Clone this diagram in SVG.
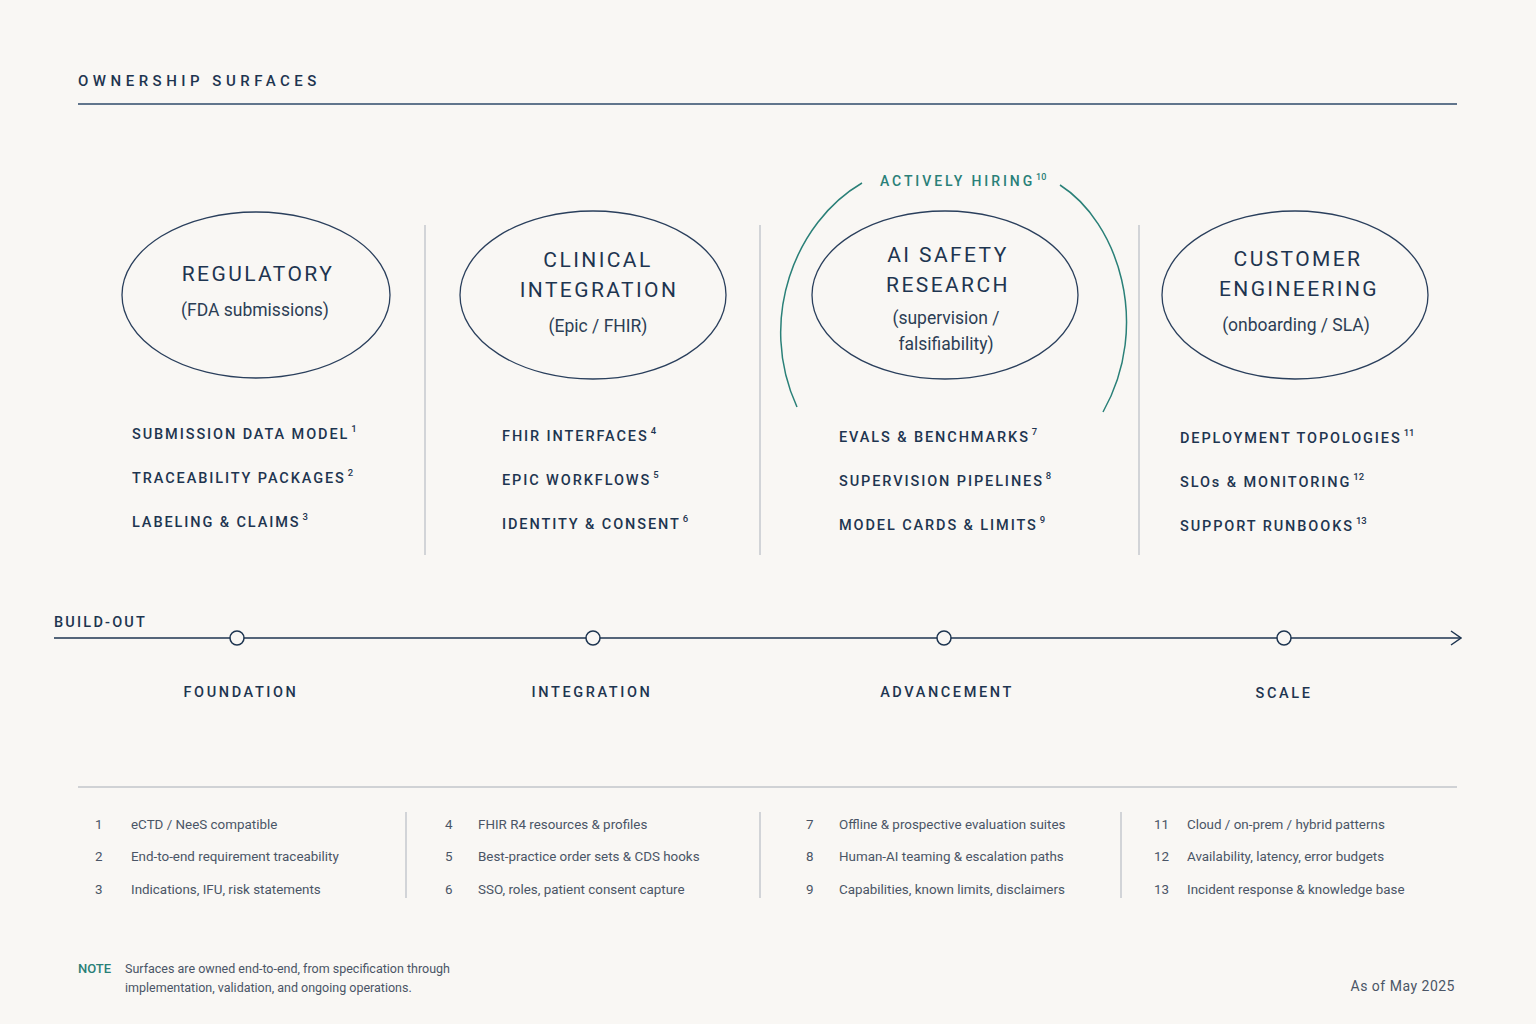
<svg xmlns="http://www.w3.org/2000/svg" width="1536" height="1024" viewBox="0 0 1536 1024">
<defs>
<style>
.bg{fill:#f9f7f4}
.t{font-family:Roboto,"Liberation Sans",sans-serif;fill:#1e3550}
.hd{font-size:15px;letter-spacing:4.5px;font-weight:500}
.nm{font-size:21px;letter-spacing:2.4px;text-anchor:middle}
.sub{font-size:17.5px;text-anchor:middle;fill:#2c3e55}
.li{font-size:14.5px;letter-spacing:1.9px;font-weight:500}
.sup{font-size:9.5px;letter-spacing:0}
.ph{font-size:14.5px;letter-spacing:2.6px;text-anchor:middle;font-weight:500}
.fn{font-size:13.4px;fill:#4a5566}
.ell{fill:none;stroke:#2a3f5c;stroke-width:1.3}
.div{stroke:#b8bcc4;stroke-width:1.2}
.rule{stroke:#2e4a6a;stroke-width:1.5}
.arc{fill:none;stroke:#2a8078;stroke-width:1.5}
.dot{fill:#f9f7f4;stroke:#1e3550;stroke-width:1.5}
</style>
<marker id="arr" viewBox="0 0 12 16" refX="11" refY="8" markerWidth="12" markerHeight="16" markerUnits="userSpaceOnUse" orient="auto">
<path d="M1 1 L11 8 L1 15" fill="none" stroke="#1e3550" stroke-width="1.5"/>
</marker>
</defs>
<rect class="bg" x="0" y="0" width="1536" height="1024"/>

<text class="t hd" x="78" y="86">OWNERSHIP SURFACES</text>
<line class="rule" x1="78" y1="104" x2="1457" y2="104"/>

<g id="dividers">
<line class="div" x1="425" y1="225" x2="425" y2="555"/>
<line class="div" x1="760" y1="225" x2="760" y2="555"/>
<line class="div" x1="1139" y1="225" x2="1139" y2="555"/>
</g>

<g id="hiring">
<path class="arc" d="M862 183 C795 222 757 320 797 407"/>
<path class="arc" d="M1060 185 C1118 222 1152 325 1103 412"/>
<text class="t" x="880" y="186" style="font-size:14px;letter-spacing:2.9px;fill:#2a8078;font-weight:500">ACTIVELY HIRING<tspan dy="-6" dx="1" style="font-size:9px;letter-spacing:0">10</tspan></text>
</g>

<g id="regulatory">
<ellipse class="ell" cx="256" cy="295" rx="134" ry="83"/>
<text class="t nm" x="258" y="281">REGULATORY</text>
<text class="t sub" x="255" y="316">(FDA submissions)</text>
<text class="t li" x="132" y="439">SUBMISSION DATA MODEL<tspan class="sup" dy="-7" dx="2">1</tspan></text>
<text class="t li" x="132" y="483">TRACEABILITY PACKAGES<tspan class="sup" dy="-7" dx="2">2</tspan></text>
<text class="t li" x="132" y="527">LABELING &amp; CLAIMS<tspan class="sup" dy="-7" dx="2">3</tspan></text>
</g>

<g id="clinical">
<ellipse class="ell" cx="593" cy="295" rx="133" ry="84"/>
<text class="t nm" x="598" y="267">CLINICAL</text>
<text class="t nm" x="599" y="297">INTEGRATION</text>
<text class="t sub" x="598" y="332">(Epic / FHIR)</text>
<text class="t li" x="502" y="441">FHIR INTERFACES<tspan class="sup" dy="-7" dx="2">4</tspan></text>
<text class="t li" x="502" y="485">EPIC WORKFLOWS<tspan class="sup" dy="-7" dx="2">5</tspan></text>
<text class="t li" x="502" y="529">IDENTITY &amp; CONSENT<tspan class="sup" dy="-7" dx="2">6</tspan></text>
</g>

<g id="aisafety">
<ellipse class="ell" cx="945" cy="295" rx="133" ry="84"/>
<text class="t nm" x="948" y="262">AI SAFETY</text>
<text class="t nm" x="948" y="292">RESEARCH</text>
<text class="t sub" x="946" y="324">(supervision /</text>
<text class="t sub" x="946" y="350">falsifiability)</text>
<text class="t li" x="839" y="442">EVALS &amp; BENCHMARKS<tspan class="sup" dy="-7" dx="2">7</tspan></text>
<text class="t li" x="839" y="486">SUPERVISION PIPELINES<tspan class="sup" dy="-7" dx="2">8</tspan></text>
<text class="t li" x="839" y="530">MODEL CARDS &amp; LIMITS<tspan class="sup" dy="-7" dx="2">9</tspan></text>
</g>

<g id="customer">
<ellipse class="ell" cx="1295" cy="295" rx="133" ry="84"/>
<text class="t nm" x="1298" y="266">CUSTOMER</text>
<text class="t nm" x="1299" y="296">ENGINEERING</text>
<text class="t sub" x="1296" y="331">(onboarding / SLA)</text>
<text class="t li" x="1180" y="443">DEPLOYMENT TOPOLOGIES<tspan class="sup" dy="-7" dx="2">11</tspan></text>
<text class="t li" x="1180" y="487">SLOs &amp; MONITORING<tspan class="sup" dy="-7" dx="2">12</tspan></text>
<text class="t li" x="1180" y="531">SUPPORT RUNBOOKS<tspan class="sup" dy="-7" dx="2">13</tspan></text>
</g>

<g id="connectors">
<line x1="54" y1="638" x2="1461" y2="638" stroke="#1e3550" stroke-width="1.6" marker-end="url(#arr)"/>
</g>

<g id="timeline">
<text class="t" x="54" y="627" style="font-size:14.5px;letter-spacing:2.2px;font-weight:500">BUILD-OUT</text>
<circle class="dot" cx="237" cy="638" r="7"/>
<circle class="dot" cx="593" cy="638" r="7"/>
<circle class="dot" cx="944" cy="638" r="7"/>
<circle class="dot" cx="1284" cy="638" r="7"/>
<text class="t ph" x="241" y="697">FOUNDATION</text>
<text class="t ph" x="592" y="697">INTEGRATION</text>
<text class="t ph" x="947" y="697">ADVANCEMENT</text>
<text class="t ph" x="1284" y="698">SCALE</text>
</g>

<line class="rule" x1="78" y1="787" x2="1457" y2="787" style="stroke:#a8adb5;stroke-width:1.2"/>

<g id="footnotes">
<line class="div" x1="406" y1="812" x2="406" y2="898"/>
<line class="div" x1="760" y1="812" x2="760" y2="898"/>
<line class="div" x1="1121" y1="812" x2="1121" y2="898"/>
<text class="t fn" x="95" y="829">1</text><text class="t fn" x="131" y="829">eCTD / NeeS compatible</text>
<text class="t fn" x="95" y="861">2</text><text class="t fn" x="131" y="861">End-to-end requirement traceability</text>
<text class="t fn" x="95" y="894">3</text><text class="t fn" x="131" y="894">Indications, IFU, risk statements</text>
<text class="t fn" x="445" y="829">4</text><text class="t fn" x="478" y="829">FHIR R4 resources &amp; profiles</text>
<text class="t fn" x="445" y="861">5</text><text class="t fn" x="478" y="861">Best-practice order sets &amp; CDS hooks</text>
<text class="t fn" x="445" y="894">6</text><text class="t fn" x="478" y="894">SSO, roles, patient consent capture</text>
<text class="t fn" x="806" y="829">7</text><text class="t fn" x="839" y="829">Offline &amp; prospective evaluation suites</text>
<text class="t fn" x="806" y="861">8</text><text class="t fn" x="839" y="861">Human-AI teaming &amp; escalation paths</text>
<text class="t fn" x="806" y="894">9</text><text class="t fn" x="839" y="894">Capabilities, known limits, disclaimers</text>
<text class="t fn" x="1154" y="829">11</text><text class="t fn" x="1187" y="829">Cloud / on-prem / hybrid patterns</text>
<text class="t fn" x="1154" y="861">12</text><text class="t fn" x="1187" y="861">Availability, latency, error budgets</text>
<text class="t fn" x="1154" y="894">13</text><text class="t fn" x="1187" y="894">Incident response &amp; knowledge base</text>
</g>

<g id="note">
<text class="t" x="78" y="973" style="font-size:13px;fill:#2a8078;font-weight:500">NOTE</text>
<text class="t" x="125" y="973" style="font-size:12.5px;fill:#4a5566">Surfaces are owned end-to-end, from specification through</text>
<text class="t" x="125" y="992" style="font-size:12.5px;fill:#4a5566">implementation, validation, and ongoing operations.</text>
<text class="t" x="1455" y="991" style="font-size:14px;fill:#4a5566;text-anchor:end;letter-spacing:0.5px">As of May 2025</text>
</g>
</svg>
